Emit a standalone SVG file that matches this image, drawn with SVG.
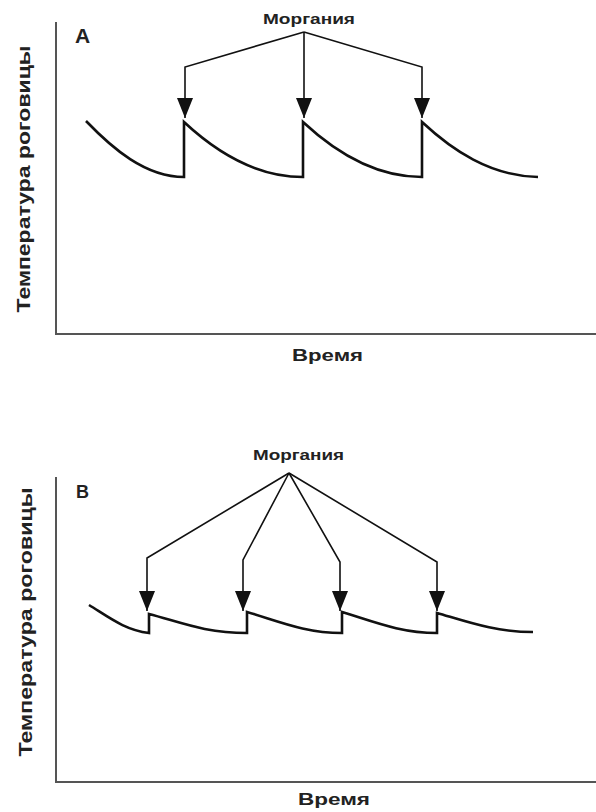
<svg xmlns="http://www.w3.org/2000/svg" width="596" height="812" viewBox="0 0 596 812">
<style>
.t{font-family:"Liberation Sans",Arial,sans-serif;font-weight:bold;fill:#222}
.axis{stroke:#555;stroke-width:2;fill:none}
.curve{stroke:#111;stroke-width:2.6;fill:none;stroke-linejoin:miter}
.conn{stroke:#111;stroke-width:1.6;fill:none}
</style>
<defs>
<marker id="ah" viewBox="0 0 20 16" markerWidth="20" markerHeight="16" refX="20" refY="8" orient="auto" markerUnits="userSpaceOnUse">
<path d="M0,0 L20,8 L0,16 z" fill="#111"/>
</marker>
</defs>
<rect width="596" height="812" fill="#fff"/>

<g id="panelA">
<g id="axesA">
<path class="axis" d="M56,22 L56,334 L596,334"/>
</g>
<g id="labelA"><text class="t" x="75" y="43" font-size="21">A</text></g>
<g id="ylabelA"><text class="t" font-size="18.5" text-anchor="middle" textLength="267" lengthAdjust="spacingAndGlyphs" transform="translate(30,179) rotate(-90)">Температура роговицы</text></g>
<g id="xlabelA"><text class="t" x="327.5" y="361" font-size="17" text-anchor="middle" textLength="71" lengthAdjust="spacingAndGlyphs">Время</text></g>
<g id="blinksA"><text class="t" x="309" y="24" font-size="15" text-anchor="middle" textLength="92" lengthAdjust="spacingAndGlyphs">Моргания</text></g>
<g id="curveA">
<path class="curve" d="M86,121 C112,148 145,177 184,177 L184,122 C214,150 255,177 303,177 L303,122 C333,150 374,177 422,177 L422,122 C452,150 490,176 538,177"/>
</g>
</g>

<g id="panelB">
<g id="axesB">
<path class="axis" d="M56,477 L56,782 L596,782"/>
</g>
<g id="labelB"><text class="t" x="76" y="498" font-size="18">B</text></g>
<g id="ylabelB"><text class="t" font-size="18.5" text-anchor="middle" textLength="269" lengthAdjust="spacingAndGlyphs" transform="translate(32,622) rotate(-90)">Температура роговицы</text></g>
<g id="xlabelB"><text class="t" x="334" y="805" font-size="17" text-anchor="middle" textLength="72" lengthAdjust="spacingAndGlyphs">Время</text></g>
<g id="blinksB"><text class="t" x="298.5" y="460" font-size="14.5" text-anchor="middle" textLength="91" lengthAdjust="spacingAndGlyphs">Моргания</text></g>
<g id="curveB">
<path class="curve" d="M89,605 C110,618 125,630 149,633 L149,614 C180,622 205,633 247,633 L247,612 C278,621 305,633 342,633 L342,612 C372,621 400,633 437,633 L437,613 C468,622 495,632 533,632"/>
</g>
</g>

<g id="connectors">
<path class="conn" marker-end="url(#ah)" d="M304,32 L185,67 L185,118"/>
<path class="conn" marker-end="url(#ah)" d="M304,32 L304,118"/>
<path class="conn" marker-end="url(#ah)" d="M304,32 L422,67 L422,118"/>
<path class="conn" marker-end="url(#ah)" d="M289,473 L147,558 L147,611"/>
<path class="conn" marker-end="url(#ah)" d="M289,473 L243,560 L243,611"/>
<path class="conn" marker-end="url(#ah)" d="M289,473 L340,562 L340,611"/>
<path class="conn" marker-end="url(#ah)" d="M289,473 L437,562 L437,611"/>
</g>
</svg>
